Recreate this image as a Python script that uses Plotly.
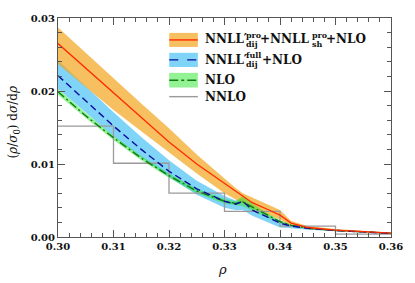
import plotly.graph_objects as go

# ---------------- data ----------------
rho = [0.300, 0.305, 0.310, 0.315, 0.320, 0.325, 0.330, 0.332, 0.3333, 0.335,
       0.338, 0.340, 0.342, 0.345, 0.350, 0.355, 0.360]

pro_c = [0.0265, 0.0231, 0.0197, 0.0163, 0.0130, 0.0100, 0.0073, 0.0062, 0.0055, 0.0047,
         0.0037, 0.0030, 0.0019, 0.0013, 0.00095, 0.0007, 0.00052]
pro_lo = [0.0237, 0.0205, 0.0174, 0.0145, 0.0116, 0.0087, 0.0060, 0.0051, 0.0046, 0.0039,
          0.0030, 0.0024, 0.0015, 0.0011, 0.0008, 0.0006, 0.0004]
pro_hi = [0.0287, 0.0252, 0.0218, 0.0183, 0.0149, 0.0113, 0.0080, 0.0067, 0.0060, 0.0054,
          0.0044, 0.0037, 0.0022, 0.0015, 0.0011, 0.0008, 0.0006]

full_c = [0.0221, 0.0186, 0.0152, 0.0120, 0.0090, 0.0066, 0.0049, 0.0045, 0.0049, 0.0037,
          0.0026, 0.0019, 0.0015, 0.0012, 0.0009, 0.0007, 0.0005]
full_lo = [0.0203, 0.0170, 0.0138, 0.0109, 0.0082, 0.0058, 0.0040, 0.0037, 0.0037, 0.0029,
           0.0019, 0.0013, 0.0012, 0.0010, 0.0008, 0.0006, 0.0004]
full_hi = [0.0242, 0.0206, 0.0171, 0.0137, 0.0105, 0.0077, 0.0056, 0.0050, 0.0052, 0.0041,
           0.0029, 0.0022, 0.0017, 0.0013, 0.0010, 0.0008, 0.0006]

nlo_c = [0.0199, 0.0166, 0.0136, 0.0108, 0.0084, 0.0063, 0.0049, 0.0046, 0.0048, 0.0041,
         0.0029, 0.0021, 0.0016, 0.0012, 0.0009, 0.0007, 0.0005]
nlo_lo = [0.0195, 0.0163, 0.0133, 0.0105, 0.0081, 0.0060, 0.0046, 0.0043, 0.0042, 0.0036,
          0.0026, 0.0019, 0.0015, 0.0011, 0.00085, 0.00065, 0.00045]
nlo_hi = [0.0203, 0.0170, 0.0139, 0.0111, 0.0087, 0.0066, 0.0052, 0.0049, 0.0056, 0.0046,
          0.0031, 0.0023, 0.0017, 0.0013, 0.00095, 0.00075, 0.00055]

nnlo_edges = [0.30, 0.31, 0.32, 0.33, 0.34, 0.35, 0.36]
nnlo_vals = [0.0152, 0.0101, 0.0060, 0.0035, 0.0015, 0.0004]

xticks = [0.30, 0.31, 0.32, 0.33, 0.34, 0.35, 0.36]
yticks = [0.00, 0.01, 0.02, 0.03]

# ---------------- styles ----------------
W, H = 415, 283
L, R, T, B = 58.3, 395.7, 12.0, 236.7

ORANGE_F = "rgba(242,165,30,0.70)"
BLUE_F = "rgba(0,170,240,0.50)"
GREEN_F = "rgba(40,230,40,0.50)"
RED = "#ff2a00"
NAVY = "#0a0a9a"
DGREEN = "#117a11"
GRAY = "#9a9a9a"
AX = "#555555"
SERIF = "DejaVu Serif"


def px(x):
    return (x - L) / (R - L)


def py(y):
    return (B - y) / (B - T)


fig = go.Figure()


def band(lo, hi, fill):
    fig.add_trace(go.Scatter(x=rho, y=lo, mode="lines", line=dict(width=0),
                             showlegend=False, hoverinfo="skip"))
    fig.add_trace(go.Scatter(x=rho, y=hi, mode="lines", line=dict(width=0),
                             fill="tonexty", fillcolor=fill, showlegend=False,
                             hoverinfo="skip"))


band(full_lo, full_hi, BLUE_F)
band(pro_lo, pro_hi, ORANGE_F)
band(nlo_lo, nlo_hi, GREEN_F)

# NNLO histogram
hx = list(nnlo_edges)
hy = list(nnlo_vals) + [nnlo_vals[-1]]
fig.add_trace(go.Scatter(x=hx, y=hy, mode="lines", line=dict(color=GRAY, width=1.3, shape="hv"),
                         showlegend=False))

fig.add_trace(go.Scatter(x=rho, y=nlo_c, mode="lines",
                         line=dict(color=DGREEN, width=1.4, dash="8px,3px,2px,3px"), showlegend=False))
fig.add_trace(go.Scatter(x=rho, y=full_c, mode="lines",
                         line=dict(color=NAVY, width=1.4, dash="7px,4px"), showlegend=False))
fig.add_trace(go.Scatter(x=rho, y=pro_c, mode="lines",
                         line=dict(color=RED, width=1.3), showlegend=False))

# ---------------- manual legend ----------------
shapes = []
annots = []
sw_x0, sw_x1 = 171.0, 200.0
rows = [
    (27.3, 41.7, ORANGE_F, RED, None),
    (47.7, 62.3, BLUE_F, NAVY, "dash"),
    (68.3, 83.3, GREEN_F, DGREEN, "dashdot"),
]
for (y0, y1, fc, lc, dash) in rows:
    shapes.append(dict(type="rect", xref="paper", yref="paper",
                       x0=px(sw_x0), x1=px(sw_x1), y0=py(y1), y1=py(y0),
                       fillcolor=fc, line=dict(width=0), layer="above"))
    yc = (y0 + y1) / 2
    shapes.append(dict(type="line", xref="paper", yref="paper",
                       x0=px(sw_x0), x1=px(sw_x1), y0=py(yc), y1=py(yc),
                       line=dict(color=lc, width=1.4, dash=dash), layer="above"))
shapes.append(dict(type="line", xref="paper", yref="paper",
                   x0=px(sw_x0), x1=px(sw_x1), y0=py(92.7), y1=py(92.7),
                   line=dict(color=GRAY, width=1.4), layer="above"))

MAINF = dict(family=SERIF, size=12, color="#111111", weight="bold")
SCRF = dict(family=SERIF, size=8, color="#111111", weight="bold")


def txt(x, y, s, font, anchor="left"):
    annots.append(dict(x=px(x), y=py(y), xref="paper", yref="paper", text=s,
                       showarrow=False, xanchor=anchor, yanchor="middle", font=font))


# row 1
r1 = 33.8
txt(205.5, r1, "NNLL′", MAINF)
txt(247.0, r1 - 4.3, "pro", SCRF)
txt(247.0, r1 + 4.6, "dij", SCRF)
txt(261.0, r1, "+NNLL", MAINF)
txt(313.5, r1 - 4.3, "pro", SCRF)
txt(313.5, r1 + 4.6, "sh", SCRF)
txt(328.0, r1, "+NLO", MAINF)
# row 2
r2 = 54.7
txt(205.5, r2, "NNLL′", MAINF)
txt(247.0, r2 - 4.3, "full", SCRF)
txt(247.0, r2 + 4.6, "dij", SCRF)
txt(263.0, r2, "+NLO", MAINF)
# rows 3,4
txt(205.5, 76.0, "NLO", MAINF)
txt(205.5, 92.8, "NNLO", MAINF)

# axis titles
annots.append(dict(x=px(224.5), y=py(270.0), xref="paper", yref="paper",
                   text="<i>ρ</i>", showarrow=False, xanchor="center", yanchor="middle",
                   font=dict(family=SERIF, size=13, color="#111111")))
annots.append(dict(x=px(14.0), y=py(119.0), xref="paper", yref="paper",
                   text="(<i>ρ</i>/<i>σ</i><sub>0</sub>) d<i>σ</i>/d<i>ρ</i>", showarrow=False,
                   xanchor="center", yanchor="middle", textangle=-90,
                   font=dict(family=SERIF, size=12, color="#111111")))

TICKF = dict(family=SERIF, size=10, color="#111111", weight="bold")
axis_common = dict(showgrid=False, zeroline=False, showline=True, linecolor=AX, linewidth=1,
                   mirror="ticks", ticks="inside", ticklen=7, tickwidth=1, tickcolor=AX,
                   tickfont=TICKF, tickformat=".2f")

fig.update_layout(
    width=W, height=H,
    margin=dict(l=L, r=W - R, t=T, b=H - B),
    paper_bgcolor="white", plot_bgcolor="white",
    showlegend=False,
    shapes=shapes, annotations=annots,
    xaxis=dict(range=[0.30, 0.36], tickvals=xticks,
               minor=dict(dtick=0.002, ticks="inside", ticklen=4, tickcolor=AX, tickwidth=1),
               **axis_common),
    yaxis=dict(range=[0.0, 0.03], tickvals=yticks,
               minor=dict(dtick=0.002, ticks="inside", ticklen=4, tickcolor=AX, tickwidth=1),
               **axis_common),
)

fig.write_html("out.html", config={"displayModeBar": False},
               post_script="document.body.style.margin='0';document.body.style.overflow='hidden';")
